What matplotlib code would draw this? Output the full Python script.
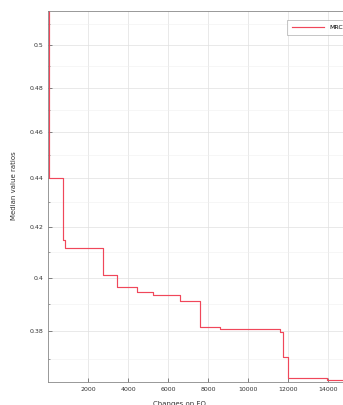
import matplotlib
matplotlib.use("Agg")
import matplotlib.pyplot as plt
from matplotlib.ticker import FixedLocator, NullFormatter

# step curve: change index where the median ratio changes, and the new value
changes = [0, 40, 750, 850, 2750, 3450, 4450, 5250, 6600, 7600, 8600,
           11600, 11750, 12000, 13950, 15000]
ratios = [0.5166, 0.4400, 0.4146, 0.4115, 0.4010, 0.3964, 0.3945, 0.3934,
          0.3911, 0.3815, 0.3807, 0.3796, 0.3706, 0.3632, 0.3625, 0.3625]

ytick_vals = [0.38, 0.40, 0.42, 0.44, 0.46, 0.48, 0.50]
ytick_text = ["0.38", "0.4", "0.42", "0.44", "0.46", "0.48", "0.5"]
xtick_vals = [2000, 4000, 6000, 8000, 10000, 12000, 14000]
minor_y = [0.37 + 0.01 * i for i in range(15)]

fig = plt.figure(figsize=(3.43, 4.05), dpi=100)
ax = fig.add_axes([0.140, 0.0568, 0.8746, 0.916])

ax.step(changes, ratios, where="post", color="#f0475a", lw=0.85, label="MRC")

ax.set_yscale("log")
ax.set_xlim(0, 15000)
ax.set_ylim(0.3619, 0.5166)

ax.yaxis.set_major_locator(FixedLocator(ytick_vals))
ax.set_yticklabels(ytick_text)
ax.yaxis.set_minor_locator(FixedLocator(minor_y))
ax.yaxis.set_minor_formatter(NullFormatter())
ax.set_xticks(xtick_vals)
ax.set_xticklabels([str(v) for v in xtick_vals])

ax.tick_params(axis="both", which="both", direction="in", labelsize=4.5,
               color="#555555", labelcolor="#333333")
ax.tick_params(which="major", length=3, width=0.5)
ax.tick_params(which="minor", length=1.5, width=0.4)

ax.grid(True, which="major", color="#e0e0e0", lw=0.5)
ax.grid(True, which="minor", axis="y", color="#f0f0f0", lw=0.4)
for s in ax.spines.values():
    s.set_color("#888888")
    s.set_linewidth(0.6)

ax.set_xlabel("Changes on FO", fontsize=5, color="#333333")
ax.set_ylabel("Median value ratios", fontsize=5, color="#333333")
ax.xaxis.set_label_coords(0.437, -0.05)
ax.yaxis.set_label_coords(-0.105, 0.53)

leg = ax.legend(loc="upper right", fontsize=4.5, frameon=True, fancybox=False,
                handlelength=5.2, borderpad=0.7, handletextpad=0.9,
                bbox_to_anchor=(1.01, 0.983))
leg.get_frame().set_edgecolor("#999999")
leg.get_frame().set_linewidth(0.5)

fig.savefig("out.png", dpi=100)
